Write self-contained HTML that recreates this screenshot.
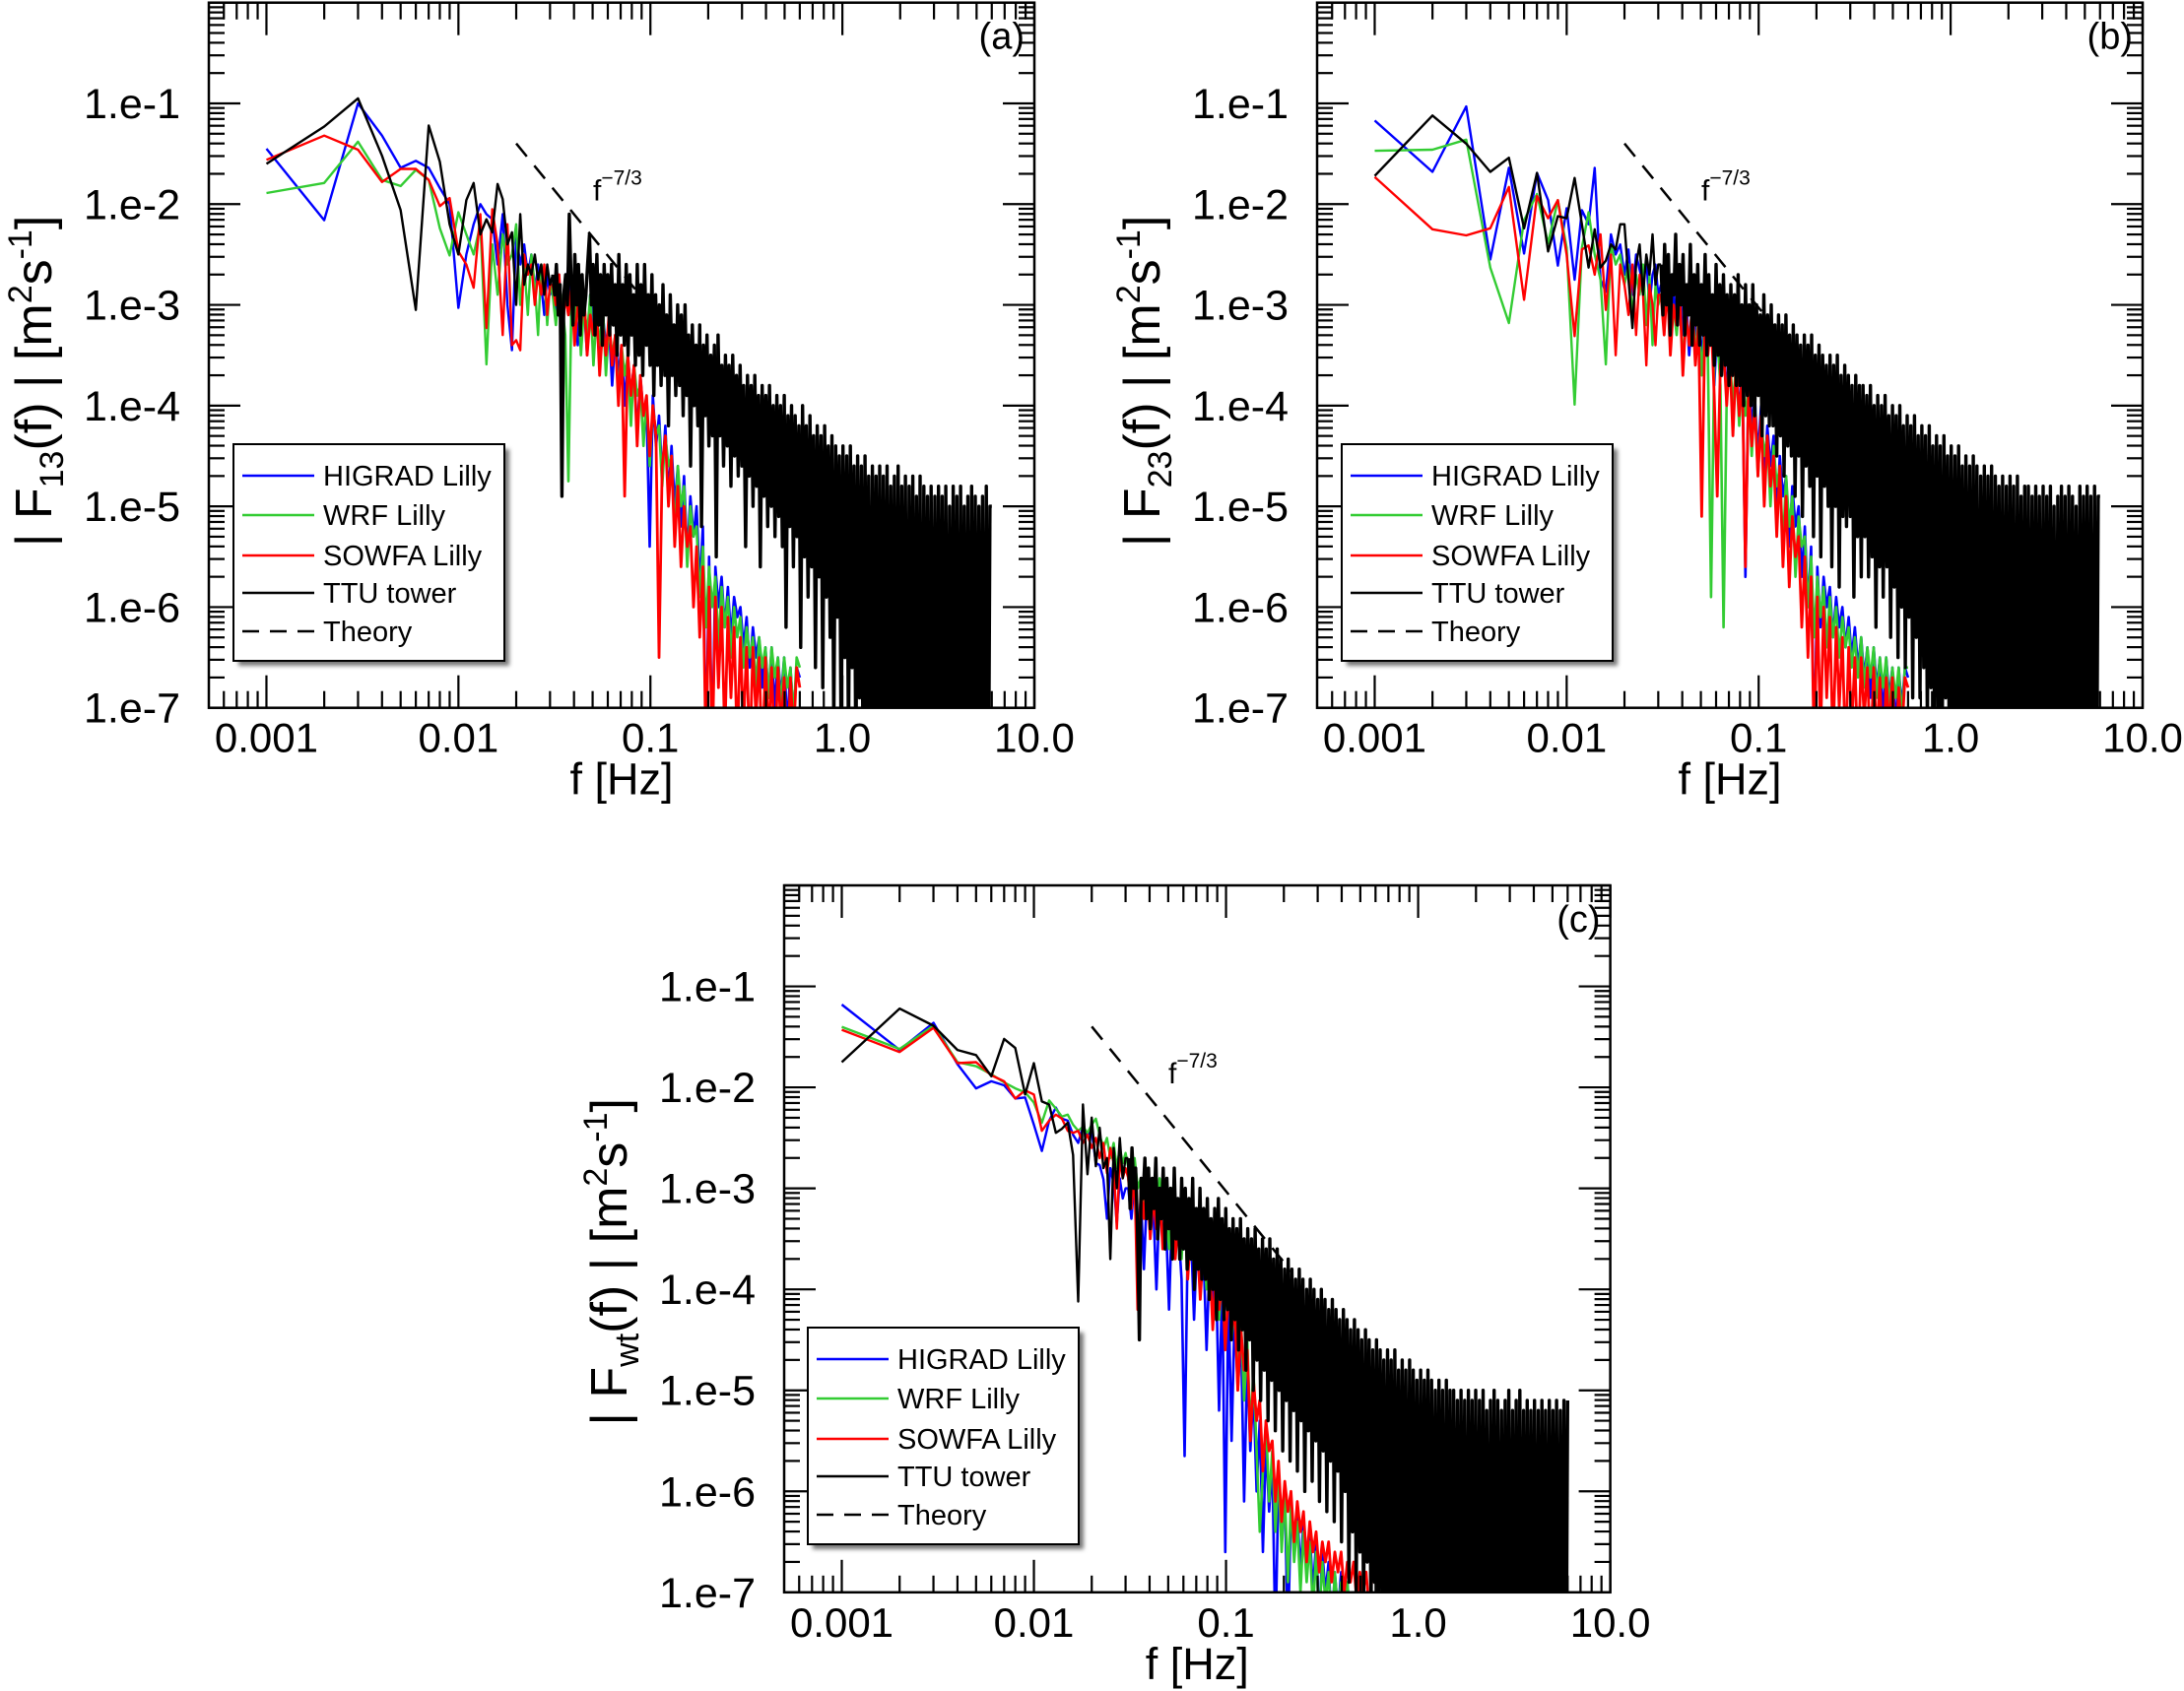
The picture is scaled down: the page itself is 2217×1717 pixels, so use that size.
<!DOCTYPE html>
<html><head><meta charset="utf-8"><title>Spectra</title>
<style>
html,body{margin:0;padding:0;background:#fff;overflow:hidden;width:2217px;height:1717px;}
svg{display:block;font-family:"Liberation Sans",Arial,sans-serif;}
</style></head>
<body>
<svg id="chart" width="2217" height="1717" viewBox="0 0 2217 1717" xmlns="http://www.w3.org/2000/svg">
<defs>
<clipPath id="clip-a"><rect x="212" y="2.7" width="838" height="716"/></clipPath>
<clipPath id="clip-b"><rect x="1337" y="2.7" width="838" height="716"/></clipPath>
<clipPath id="clip-c"><rect x="796" y="899" width="838.6" height="717.8"/></clipPath>
<filter id="shadow" x="-10%" y="-10%" width="130%" height="130%"><feGaussianBlur stdDeviation="2"/></filter>
</defs>
</svg>
<script>
// ---------- shared frequency categories ----------
const fLow = [0.001,0.002,0.003,0.004,0.005,0.006,0.007,0.008,0.009,0.010,0.011,0.012,0.013,0.014,0.015,0.016,0.017,0.018,0.019,0.020,0.021,0.022,0.023,0.024,0.025,0.026,0.027,0.028,0.029,0.030];
const fHighStartHz = 0.031;
const fTTUEndHz = 6.0;
const fModelEndHz = 0.6;

// ---------- panel (a) series (log10 of |F|) ----------
const ttuLowA = [-1.6,-1.23,-0.95,-1.52,-2.06,-3.05,-1.22,-1.58,-2.2,-2.5,-1.96,-1.79,-2.3,-2.15,-2.28,-1.8,-1.95,-2.4,-2.28,-3.0,-2.1,-2.8,-2.6,-2.7,-2.5,-2.75,-2.6,-2.9,-2.6,-2.8];
const ttuHighA = [-2.7,-2.9,-2.6,-3.1,-2.8,-4.9,-2.9,-2.7,-3.0,-2.1,
-2.8,-3.2,-2.5,-3.0,-2.6,-3.3,-2.7,-3.1,-2.9,-2.6,
-2.3,-3.0,-2.6,-3.3,-2.5,-3.2,-2.7,-3.4,-2.6,-3.1,
-2.7,-3.3,-2.6,-3.2,-2.8,-3.5,-2.5,-3.3,-2.8,-3.4,
-2.6,-3.5,-2.7,-3.3,-2.9,-3.6,-2.6,-3.5,-2.8,-3.7,
-2.6,-3.4,-2.9,-3.6,-2.7,-3.9,-2.9,-3.6,-3.0,-3.8,
-2.8,-3.7,-3.1,-4.2,-2.9,-3.7,-3.2,-3.9,-3.0,-3.8,
-3.1,-4.1,-3.0,-3.9,-3.3,-4.6,-3.2,-4.0,-3.4,-4.2,
-3.2,-5.2,-3.4,-4.1,-3.3,-4.4,-3.5,-4.3,-3.4,-5.5,
-3.3,-4.3,-3.6,-4.6,-3.5,-4.4,-3.6,-4.8,-3.5,-4.5,
-3.7,-4.7,-3.6,-4.6,-3.8,-5.4,-3.7,-4.7,-3.8,-5.0,
-3.7,-4.8,-3.9,-5.6,-3.8,-4.9,-3.9,-5.2,-3.8,-5.0,
-4.0,-5.3,-3.9,-5.1,-4.0,-5.4,-3.9,-6.2,-4.1,-5.2,
-4.0,-5.6,-4.1,-5.3,-4.2,-6.4,-4.0,-5.5,-4.2,-5.9,
-4.1,-5.6,-4.3,-6.6,-4.2,-5.7,-4.3,-6.8,-4.2,-5.9,
-4.4,-6.3,-4.3,-7.2,-4.4,-6.1,-4.5,-7.5,-4.4,-6.5,
-4.5,-7.4,-4.4,-6.6,-4.6,-7.6,-4.5,-6.9,-4.6,-7.8,
-4.5,-7.1,-4.7,-8.0,-4.6,-7.3,-4.7,-7.9,-4.6,-8.2,
-4.7,-7.5,-4.6,-8.3,-4.8,-7.7,-4.7,-8.1,-4.6,-8.4,
-4.8,-7.9,-4.7,-8.5,-4.8,-8.0,-4.7,-8.6,-4.9,-8.2,
-4.7,-8.7,-4.8,-8.1,-4.9,-8.6,-4.8,-8.3,-4.9,-8.8,
-4.8,-8.4,-4.9,-8.7,-4.8,-8.5,-5.0,-8.9,-4.8,-8.6,
-4.9,-8.8,-4.8,-8.5,-5.0,-8.9,-4.9,-8.7,-4.8,-8.6,
-4.9,-8.9,-5.0,-8.7,-4.9,-8.8,-4.8,-8.9,-5.0,-5.0];
const higradLowA = [-1.45,-2.16,-1.0,-1.32,-1.64,-1.57,-1.64,-1.84,-2.0,-3.03,-2.5,-2.2,-2.0,-2.1,-2.15,-2.6,-2.1,-3.0,-3.45,-2.3,-2.6,-2.4,-2.7,-2.5,-2.9,-2.6,-2.8,-3.1,-2.7,-2.9];
const higradHighA = [-2.8,-3.1,-2.7,-3.3,-2.9,-2.6,-3.2,-2.8,-3.4,-2.9,
-3.0,-3.5,-2.9,-3.3,-3.0,-3.6,-3.1,-3.4,-3.2,-3.8,
-3.3,-3.7,-3.4,-4.0,-3.5,-3.9,-3.6,-4.3,-3.7,-4.1,
-4.0,-5.4,-3.9,-4.4,-4.1,-4.7,-4.2,-4.9,-4.4,-5.0,
-4.6,-5.2,-4.7,-5.5,-4.9,-5.3,-5.0,-5.8,-5.2,-7.5,
-5.5,-7.5,-5.6,-6.0,-5.7,-6.2,-5.8,-6.3,-5.9,-6.1,
-6.0,-6.4,-6.1,-6.6,-6.2,-6.5,-6.3,-6.8,-6.4,-6.9,
-6.4,-7.0,-6.5,-6.9,-6.5,-7.2,-6.6,-7.1,-6.6,-6.7];
const wrfLowA = [-1.89,-1.79,-1.38,-1.76,-1.82,-1.66,-1.76,-2.24,-2.51,-2.08,-2.3,-2.5,-2.2,-3.59,-2.4,-2.9,-2.3,-2.6,-2.5,-2.2,-3.0,-2.6,-3.1,-2.5,-2.8,-3.3,-2.6,-2.7,-3.2,-2.8];
const wrfHighA = [-2.9,-3.2,-2.8,-3.0,-3.3,-4.75,-2.9,-3.2,-2.8,-3.5,
-3.0,-3.3,-2.9,-3.6,-3.1,-3.4,-3.0,-3.7,-3.2,-3.5,
-3.3,-3.9,-3.4,-3.7,-3.5,-4.2,-3.6,-3.9,-3.8,-4.4,
-3.9,-4.6,-4.0,-4.3,-4.2,-4.8,-4.3,-4.6,-4.5,-5.3,
-4.6,-5.0,-4.8,-5.6,-5.0,-5.3,-5.2,-5.9,-5.4,-6.2,
-5.6,-6.0,-5.7,-6.4,-5.8,-6.2,-5.9,-6.5,-6.0,-6.3,
-6.1,-6.6,-6.2,-6.5,-6.3,-6.8,-6.3,-6.6,-6.4,-6.9,
-6.4,-6.7,-6.5,-7.0,-6.5,-6.8,-6.6,-7.1,-6.5,-6.6];
const sowfaLowA = [-1.56,-1.32,-1.46,-1.78,-1.65,-1.65,-1.76,-2.02,-1.94,-2.47,-2.6,-2.83,-2.1,-3.23,-2.05,-2.4,-3.3,-2.2,-3.4,-3.35,-3.45,-2.5,-2.7,-2.6,-3.0,-2.7,-2.9,-2.6,-3.1,-2.8];
const sowfaHighA = [-2.8,-3.0,-2.7,-3.3,-2.9,-3.1,-2.8,-3.4,-3.0,-3.2,
-2.9,-3.5,-3.1,-3.3,-3.0,-3.7,-3.2,-3.5,-3.1,-3.6,
-3.3,-4.0,-3.4,-4.9,-3.5,-3.9,-3.6,-4.4,-3.7,-4.1,
-3.9,-4.5,-4.0,-4.3,-6.5,-4.6,-4.3,-5.0,-4.5,-5.4,
-4.8,-5.6,-5.0,-5.4,-5.2,-6.0,-5.4,-6.3,-5.6,-7.5,
-5.8,-7.5,-5.9,-6.8,-6.0,-7.3,-6.1,-6.9,-6.2,-7.4,
-6.3,-7.2,-6.4,-7.5,-6.4,-7.1,-6.5,-7.6,-6.5,-7.3,
-6.6,-7.5,-6.6,-7.2,-6.7,-7.6,-6.7,-7.3,-6.6,-6.8];

// ---------- panel (b) series ----------
const ttuLowB = [-1.72,-1.12,-1.4,-1.68,-1.54,-2.24,-1.69,-2.47,-2.12,-2.14,-1.74,-2.2,-2.63,-2.25,-2.63,-2.56,-2.4,-2.45,-2.2,-2.2,-2.75,-3.23,-2.6,-2.4,-2.9,-2.5,-2.7,-2.3,-2.8,-2.6];
const ttuHighB = [-2.6,-3.1,-2.4,-3.0,-2.5,-3.3,-2.7,-2.9,-2.3,-3.2,
-2.6,-3.0,-2.5,-3.3,-2.8,-3.1,-2.4,-3.4,-2.7,-3.2,
-2.6,-3.4,-2.8,-3.3,-2.5,-3.5,-2.7,-3.4,-2.9,-3.6,
-2.6,-3.5,-2.8,-3.7,-2.7,-3.6,-2.9,-3.8,-2.8,-3.7,
-2.9,-3.8,-2.7,-3.8,-3.0,-4.0,-2.8,-3.9,-3.0,-4.0,
-2.8,-4.1,-3.0,-3.9,-3.1,-4.3,-2.9,-4.1,-3.1,-4.2,
-3.0,-4.2,-3.2,-4.5,-3.1,-4.3,-3.2,-4.7,-3.1,-4.4,
-3.3,-4.5,-3.2,-4.9,-3.3,-4.5,-3.4,-5.1,-3.3,-4.6,
-3.4,-4.8,-3.3,-5.3,-3.5,-4.7,-3.4,-5.5,-3.5,-4.8,
-3.6,-5.0,-3.5,-5.6,-3.6,-5.0,-3.5,-5.8,-3.7,-5.1,
-3.6,-5.2,-3.7,-5.1,-3.8,-5.9,-3.7,-5.3,-3.8,-5.7,
-3.8,-5.3,-3.9,-5.7,-3.8,-5.5,-4.0,-6.2,-3.9,-5.6,
-4.0,-5.9,-3.9,-5.6,-4.1,-6.3,-4.0,-5.8,-4.1,-6.5,
-4.0,-6.0,-4.2,-6.6,-4.1,-6.1,-4.2,-6.9,-4.1,-6.3,
-4.3,-6.9,-4.2,-6.6,-4.3,-7.2,-4.2,-6.8,-4.4,-7.4,
-4.3,-7.0,-4.4,-7.6,-4.3,-6.9,-4.5,-7.8,-4.4,-7.2,
-4.5,-7.9,-4.4,-7.3,-4.6,-8.0,-4.5,-7.5,-4.6,-8.2,
-4.5,-7.6,-4.6,-8.3,-4.7,-7.8,-4.6,-8.4,-4.7,-7.9,
-4.6,-8.5,-4.7,-8.0,-4.8,-8.6,-4.7,-8.1,-4.8,-8.7,
-4.7,-8.2,-4.8,-8.8,-4.7,-8.3,-4.9,-8.6,-4.8,-8.9,
-4.8,-8.4,-4.9,-8.7,-4.8,-8.9,-4.9,-8.5,-4.8,-8.8,
-4.9,-8.6,-4.8,-8.9,-5.0,-8.7,-4.9,-8.8,-4.8,-8.6,
-4.9,-8.9,-4.8,-8.7,-4.9,-8.8,-5.0,-8.6,-4.8,-8.9,
-4.9,-8.7,-4.8,-8.8,-4.9,-8.9,-4.8,-8.7,-4.9,-4.9];
const higradLowB = [-1.17,-1.68,-1.03,-2.55,-1.64,-2.49,-1.69,-1.96,-2.61,-2.04,-2.75,-2.06,-2.2,-1.64,-2.75,-2.87,-2.3,-2.5,-2.4,-2.7,-2.45,-2.9,-2.5,-2.65,-2.8,-2.55,-3.0,-2.7,-2.6,-2.9];
const higradHighB = [-2.8,-3.0,-2.7,-3.2,-2.9,-3.1,-2.8,-3.3,-2.9,-3.5,
-3.0,-3.3,-2.9,-3.6,-3.1,-3.4,-3.0,-3.8,-3.2,-3.5,
-3.3,-3.9,-3.4,-3.7,-3.5,-4.1,-3.6,-5.7,-3.7,-4.2,
-3.9,-4.5,-4.0,-4.8,-4.2,-4.6,-4.3,-5.1,-4.5,-4.9,
-4.7,-5.4,-4.8,-5.2,-5.0,-5.7,-5.2,-6.0,-5.4,-7.5,
-5.6,-6.2,-5.7,-6.0,-5.8,-6.3,-5.9,-6.2,-6.0,-6.4,
-6.1,-6.5,-6.2,-6.6,-6.3,-6.7,-6.4,-6.9,-6.4,-6.8,
-6.5,-7.1,-6.5,-6.9,-6.6,-7.2,-6.6,-7.0,-6.6,-6.7];
const wrfLowB = [-1.47,-1.46,-1.36,-2.63,-3.18,-2.16,-1.9,-2.39,-1.96,-2.43,-3.99,-2.43,-2.08,-2.5,-2.75,-3.59,-2.4,-2.6,-2.5,-2.8,-2.6,-3.1,-2.7,-2.9,-2.6,-3.2,-2.7,-3.4,-2.8,-3.0];
const wrfHighB = [-2.9,-3.2,-2.8,-3.4,-3.0,-3.3,-2.9,-3.6,-3.1,-3.4,
-3.0,-3.5,-3.1,-3.7,-3.2,-3.5,-5.9,-3.6,-3.3,-3.8,
-6.2,-3.9,-3.5,-4.0,-3.6,-4.2,-3.7,-4.1,-3.8,-4.5,
-3.9,-4.7,-4.1,-4.5,-4.3,-5.0,-4.4,-4.8,-4.6,-5.4,
-4.7,-5.2,-4.9,-5.7,-5.1,-5.4,-5.3,-6.0,-5.5,-6.3,
-5.7,-6.1,-5.8,-6.4,-5.9,-6.3,-6.0,-6.5,-6.1,-6.4,
-6.2,-6.6,-6.3,-6.7,-6.3,-6.8,-6.4,-6.7,-6.4,-6.9,
-6.5,-6.8,-6.5,-7.0,-6.6,-6.9,-6.6,-7.1,-6.6,-6.6];
const sowfaLowB = [-1.73,-2.25,-2.31,-2.24,-1.83,-2.95,-1.92,-2.14,-1.96,-2.5,-3.31,-2.45,-2.41,-2.7,-2.3,-3.05,-2.5,-3.5,-2.6,-2.8,-3.1,-2.6,-3.3,-2.7,-2.9,-3.6,-2.8,-3.0,-3.4,-2.9];
const sowfaHighB = [-2.9,-3.3,-2.8,-3.5,-3.0,-3.2,-2.9,-3.7,-3.1,-3.4,
-3.0,-3.6,-3.2,-5.1,-3.3,-3.5,-3.1,-3.9,-4.9,-3.6,
-3.4,-4.0,-3.5,-4.3,-3.6,-4.1,-3.7,-5.6,-3.8,-4.4,
-4.0,-4.7,-4.1,-5.0,-4.3,-4.8,-4.5,-5.3,-4.6,-5.6,
-4.9,-5.8,-5.1,-5.5,-5.3,-6.2,-5.5,-6.5,-5.7,-7.5,
-5.9,-7.3,-6.0,-6.9,-6.1,-7.4,-6.2,-7.0,-6.3,-7.5,
-6.4,-7.2,-6.5,-7.6,-6.5,-7.1,-6.6,-7.5,-6.6,-7.3,
-6.7,-7.6,-6.7,-7.2,-6.7,-7.5,-6.8,-7.3,-6.7,-6.8];

// ---------- panel (c) series ----------
const ttuLowC = [-1.75,-1.22,-1.39,-1.63,-1.68,-1.89,-1.52,-1.61,-2.07,-1.76,-2.14,-2.17,-2.45,-2.41,-2.35,-2.67,-4.12,-2.17,-2.86,-2.3,-2.78,-2.4,-2.8,-2.7,-3.7,-2.6,-3.0,-2.5,-2.9,-2.7];
const ttuHighC = [-2.7,-3.2,-2.6,-3.0,-2.8,-3.4,-4.5,-2.9,-3.1,-2.7,
-3.3,-2.8,-3.4,-2.9,-3.2,-2.7,-3.5,-3.0,-3.3,-2.8,
-3.6,-2.9,-3.4,-3.0,-3.7,-2.8,-3.5,-3.1,-3.7,-2.9,
-3.6,-3.0,-3.8,-3.1,-3.7,-2.9,-4.0,-3.2,-3.8,-3.0,
-3.9,-3.2,-3.9,-3.1,-4.1,-3.3,-4.0,-3.2,-4.3,-3.1,
-4.1,-3.3,-4.3,-3.2,-4.2,-3.4,-4.5,-3.3,-4.3,-3.4,
-4.6,-3.3,-4.4,-3.5,-4.8,-3.4,-4.5,-3.5,-5.0,-3.4,
-4.7,-3.6,-5.1,-3.5,-4.8,-3.6,-5.3,-3.5,-4.9,-3.7,
-5.4,-3.6,-5.0,-3.7,-5.6,-3.8,-5.1,-3.7,-5.7,-3.8,
-5.2,-3.9,-5.8,-3.8,-5.3,-3.9,-6.0,-4.0,-5.4,-3.9,
-5.9,-4.0,-5.5,-4.1,-6.1,-4.0,-5.6,-4.1,-6.2,-4.2,
-5.7,-4.1,-6.3,-4.2,-5.8,-4.3,-6.5,-4.2,-6.0,-4.3,
-6.9,-4.4,-6.4,-4.3,-7.0,-4.4,-6.6,-4.5,-7.2,-4.4,
-6.7,-4.5,-7.3,-4.6,-6.9,-4.5,-7.5,-4.6,-7.0,-4.7,
-7.6,-4.6,-7.2,-4.7,-7.8,-4.6,-7.3,-4.8,-7.9,-4.7,
-7.4,-4.8,-8.0,-4.7,-7.6,-4.8,-8.2,-4.9,-7.7,-4.8,
-8.3,-4.9,-7.8,-4.8,-8.4,-4.9,-7.9,-5.0,-8.5,-4.9,
-8.0,-5.0,-8.6,-4.9,-8.1,-5.0,-8.7,-5.0,-8.2,-5.1,
-8.8,-5.0,-8.3,-5.1,-8.9,-5.0,-8.4,-5.1,-8.8,-5.0,
-8.5,-5.1,-8.9,-5.0,-8.6,-5.2,-8.8,-5.1,-8.7,-5.0,
-8.9,-5.1,-8.6,-5.2,-8.8,-5.1,-8.9,-5.0,-8.7,-5.2,
-8.8,-5.1,-8.9,-5.0,-8.6,-5.2,-8.8,-5.1,-8.9,-5.2,
-8.7,-5.1,-8.8,-5.2,-8.9,-5.1,-8.6,-5.2,-8.8,-5.1,
-8.9,-5.2,-8.7,-5.1,-8.8,-5.2,-8.9,-5.1,-8.7,-5.1];
const higradLowC = [-1.18,-1.63,-1.36,-1.77,-2.01,-1.94,-1.98,-2.11,-2.1,-2.37,-2.63,-2.33,-2.2,-2.31,-2.33,-2.47,-2.55,-2.39,-2.47,-2.43,-2.75,-2.77,-2.91,-3.3,-2.8,-2.95,-3.35,-2.9,-3.1,-3.0];
const higradHighC = [-3.0,-3.3,-2.9,-3.5,-3.1,-3.8,-3.0,-3.4,-3.2,-4.0,
-3.1,-3.5,-3.3,-4.2,-3.2,-3.6,-3.4,-3.9,-5.65,-3.5,
-3.4,-4.3,-3.5,-3.9,-3.6,-4.6,-3.7,-4.2,-3.8,-5.2,
-3.9,-6.6,-4.0,-5.5,-4.2,-5.0,-4.4,-6.1,-4.7,-5.6,
-5.0,-6.0,-5.3,-6.6,-5.5,-6.2,-5.7,-7.5,-5.9,-6.4,
-6.0,-7.5,-6.1,-6.5,-6.2,-6.8,-6.3,-6.6,-6.4,-7.0,
-6.5,-7.3,-6.6,-7.0,-6.7,-7.4,-6.8,-7.2,-6.8,-7.5,
-6.9,-7.3,-7.0,-7.6,-7.0,-7.4,-7.1,-7.6,-7.1,-7.3];
const wrfLowC = [-1.4,-1.62,-1.39,-1.75,-1.79,-1.87,-1.95,-2.01,-2.05,-2.15,-2.35,-2.13,-2.21,-2.29,-2.27,-2.37,-2.43,-2.39,-2.45,-2.37,-2.31,-2.47,-2.6,-2.5,-2.7,-2.55,-2.8,-2.6,-2.75,-2.65];
const wrfHighC = [-2.8,-3.1,-2.7,-3.0,-2.9,-3.3,-2.8,-3.1,-3.0,-3.4,
-2.9,-3.2,-3.1,-3.6,-3.0,-3.3,-3.2,-3.7,-3.1,-3.5,
-3.3,-3.8,-3.4,-3.6,-3.5,-4.0,-3.6,-3.8,-3.7,-4.3,
-3.8,-4.1,-3.9,-4.5,-4.1,-4.8,-4.3,-5.1,-4.5,-5.4,
-4.8,-5.6,-6.4,-5.8,-5.3,-6.1,-5.6,-6.4,-5.8,-6.6,
-6.0,-6.9,-6.1,-6.7,-6.3,-7.0,-6.4,-6.9,-6.5,-7.2,
-6.6,-7.3,-6.7,-7.1,-6.8,-7.4,-6.8,-7.2,-6.9,-7.5,
-6.9,-7.3,-7.0,-7.6,-7.0,-7.4,-7.1,-7.7,-7.0,-7.2];
const sowfaLowC = [-1.43,-1.65,-1.41,-1.76,-1.75,-1.88,-1.94,-2.11,-2.03,-2.07,-2.43,-2.33,-2.27,-2.31,-2.43,-2.45,-2.43,-2.55,-2.47,-2.6,-2.5,-2.7,-2.55,-2.85,-2.6,-2.75,-3.4,-2.7,-2.9,-2.8];
const sowfaHighC = [-2.9,-3.2,-2.8,-4.2,-3.0,-3.3,-2.9,-3.5,-3.1,-3.4,
-3.0,-3.6,-3.2,-3.4,-3.1,-3.7,-3.3,-3.5,-3.2,-3.9,
-3.4,-3.7,-3.5,-4.1,-3.6,-3.9,-3.7,-4.4,-3.8,-4.2,
-3.9,-4.6,-4.0,-4.4,-4.2,-5.0,-4.4,-4.8,-4.6,-5.5,
-4.9,-5.3,-5.1,-5.8,-5.3,-5.6,-5.5,-6.1,-5.7,-6.3,
-5.9,-6.2,-6.0,-6.5,-6.1,-6.4,-6.2,-6.7,-6.3,-6.6,
-6.4,-6.8,-6.5,-6.7,-6.5,-6.9,-6.6,-6.8,-6.6,-7.0,
-6.7,-6.9,-6.7,-7.1,-6.8,-7.0,-6.8,-7.2,-6.8,-6.9];

// ---------- theory line f^-7/3 ----------
const theoryStartHz = [0.02, 0.02, 0.02];
const theoryAmp = [0.04, 0.04, 0.04];
const theoryEndHz = [0.108, 0.12, 0.22];

// ---------- tick labels ----------
const xTickValues = [0.001, 0.01, 0.1, 1, 10];
const xTickLabels = ["0.001", "0.01", "0.1", "1.0", "10.0"];
const yTickExps = [-1, -2, -3, -4, -5, -6, -7];
const yTickLabels = ["1.e-1", "1.e-2", "1.e-3", "1.e-4", "1.e-5", "1.e-6", "1.e-7"];
const legendLabels = ["HIGRAD Lilly", "WRF Lilly", "SOWFA Lilly", "TTU tower", "Theory"];
const panelTags = ["(a)", "(b)", "(c)"];
const ySubs = ["13", "23", "wt"];

// ---------- layout ----------
const NS = "http://www.w3.org/2000/svg";
const svg = document.getElementById("chart");
const panels = [
  {id:"a", x0:212, x1:1050, y0:2.7, y1:718.7, legX:237, legY:451},
  {id:"b", x0:1337, x1:2175, y0:2.7, y1:718.7, legX:1362, legY:451},
  {id:"c", x0:796, x1:1634.6, y0:899, y1:1616.8, legX:820, legY:1348}
];
const LX0 = -3.3, LX1 = 1.0, LY0 = -7, LY1 = 0;
function xPos(p, f){ return p.x0 + (Math.log10(f) - LX0) / (LX1 - LX0) * (p.x1 - p.x0); }
function yPos(p, lv){ return p.y1 - (lv - LY0) / (LY1 - LY0) * (p.y1 - p.y0); }
function mk(tag, attrs, parent){
  const e = document.createElementNS(NS, tag);
  for (const k in attrs) e.setAttribute(k, attrs[k]);
  (parent || svg).appendChild(e);
  return e;
}
function highGrid(n, endHz){
  const out = [];
  for (let i = 0; i < n; i++) out.push(fHighStartHz * Math.pow(endHz / fHighStartHz, i / (n - 1)));
  return out;
}
// returns two path strings: low-frequency part and high-frequency part (sharing a joint point)
function seriesPaths(p, lowVals, highVals, endHz){
  const fr = fLow.slice(0, lowVals.length).concat(highGrid(highVals.length, endHz));
  const vals = lowVals.concat(highVals);
  const pts = vals.map((v, i) => xPos(p, fr[i]).toFixed(1) + "," + yPos(p, v).toFixed(1));
  const split = lowVals.length;
  const lowD = "M" + pts.slice(0, split + 1).join("L");
  const highD = "M" + pts.slice(split).join("L");
  return [lowD, highD];
}

const seriesByPanel = [
  [higradLowA, higradHighA, wrfLowA, wrfHighA, sowfaLowA, sowfaHighA, ttuLowA, ttuHighA],
  [higradLowB, higradHighB, wrfLowB, wrfHighB, sowfaLowB, sowfaHighB, ttuLowB, ttuHighB],
  [higradLowC, higradHighC, wrfLowC, wrfHighC, sowfaLowC, sowfaHighC, ttuLowC, ttuHighC]
];
const colors = ["#0000ff", "#33cc33", "#ff0000", "#000000"];
const lowWidths = [2.4, 2.4, 2.4, 2.4];
const highWidths = [2.6, 2.6, 2.8, 3.4];
const seriesNames = ["higrad-lilly-line", "wrf-lilly-line", "sowfa-lilly-line", "ttu-tower-line"];

panels.forEach((p, pi) => {
  const g = mk("g", {});
  
  

  const dg = mk("g", {"clip-path": "url(#clip-" + p.id + ")"}, g);
  
  
  const S = seriesByPanel[pi];
  for (let s = 0; s < 4; s++){
    const endHz = s === 3 ? fTTUEndHz : fModelEndHz;
    const ds = seriesPaths(p, S[2*s], S[2*s+1], endHz);
    const sg = mk("g", {fill: "none", stroke: colors[s], "stroke-linejoin": "round"}, dg);
    
    
    const lp = mk("path", {d: ds[0], "stroke-width": lowWidths[s]}, sg);
    
    
    const hp = mk("path", {d: ds[1], "stroke-width": highWidths[s]}, sg);
    
    
  }
  const fa = theoryStartHz[pi], fb = theoryEndHz[pi], A = theoryAmp[pi];
  const ya = Math.log10(A), yb = Math.log10(A * Math.pow(fb / fa, -7/3));
  const th = mk("line", {x1: xPos(p, fa), y1: yPos(p, ya), x2: xPos(p, fb), y2: yPos(p, yb), stroke: "#000", "stroke-width": 2.5, "stroke-dasharray": "17,12"}, dg);
  
  

  const fr = mk("rect", {x: p.x0, y: p.y0, width: p.x1 - p.x0, height: p.y1 - p.y0, fill: "none", stroke: "#000", "stroke-width": 2.5}, g);
  
  

  const tg = mk("g", {stroke: "#000", "stroke-width": 2.2}, g);
  
  
  for (let e = -4; e <= 1; e++){
    for (let m = 1; m <= 9; m++){
      const f = m * Math.pow(10, e);
      const lf = Math.log10(f);
      if (lf < LX0 - 1e-9 || lf > LX1 + 1e-9) continue;
      const x = xPos(p, f), len = m === 1 ? 33 : 17;
      mk("line", {x1: x, y1: p.y1, x2: x, y2: p.y1 - len}, tg);
      mk("line", {x1: x, y1: p.y0, x2: x, y2: p.y0 + len}, tg);
    }
  }
  const yg = mk("g", {stroke: "#000", "stroke-width": 2.2}, g);
  
  
  for (let e = -7; e <= 0; e++){
    for (let m = 1; m <= 9; m++){
      const lv = e + Math.log10(m);
      if (lv > LY1 + 1e-9) continue;
      const y = yPos(p, lv), len = m === 1 ? 32 : 16;
      mk("line", {x1: p.x0, y1: y, x2: p.x0 + len, y2: y}, yg);
      mk("line", {x1: p.x1, y1: y, x2: p.x1 - len, y2: y}, yg);
    }
  }
  xTickValues.forEach((v, i) => {
    const t = mk("text", {x: xPos(p, v), y: p.y1 + 45, "font-size": 42, "text-anchor": "middle", fill: "#000"}, g);
    t.textContent = xTickLabels[i];
    
    
  });
  yTickExps.forEach((v, i) => {
    const t = mk("text", {x: p.x0 - 29, y: yPos(p, v) + 15, "font-size": 43, "text-anchor": "end", fill: "#000"}, g);
    t.textContent = yTickLabels[i];
    
    
  });
  const xt = mk("text", {x: (p.x0 + p.x1) / 2, y: p.y1 + 88, "font-size": 45, "text-anchor": "middle", fill: "#000"}, g);
  xt.textContent = "f [Hz]";
  
  
  const yt = mk("text", {transform: "translate(" + (p.x0 - 160) + "," + (p.y0 + 216) + ") rotate(-90)", "font-size": 52, "text-anchor": "end", fill: "#000", "xml:space": "preserve"}, g);
  
  
  yt.innerHTML = '| F<tspan font-size="34" dy="12">' + ySubs[pi] + '</tspan><tspan dy="-12">(f) |  [m</tspan><tspan font-size="34" dy="-20">2</tspan><tspan dy="20">s</tspan><tspan font-size="34" dy="-20">-1</tspan><tspan dy="20">]</tspan>';
  const pt = mk("text", {x: p.x1 - 10, y: p.y0 + 47, "font-size": 38, "text-anchor": "end", fill: "#000"}, g);
  pt.textContent = panelTags[pi];
  
  
  const an = mk("text", {x: p.x0 + 390, y: p.y0 + 201, "font-size": 30, fill: "#000"}, g);
  an.innerHTML = 'f<tspan font-size="21" dy="-16">\u22127/3</tspan>';
  
  

  const lg = mk("g", {}, g);
  
  
  mk("rect", {x: p.legX + 5, y: p.legY + 5, width: 275, height: 220, fill: "#777", filter: "url(#shadow)"}, lg);
  mk("rect", {x: p.legX, y: p.legY, width: 275, height: 220, fill: "#fff", stroke: "#000", "stroke-width": 2}, lg);
  const rowOff = [32, 72, 113, 151, 190];
  legendLabels.forEach((lab, i) => {
    const ry = p.legY + rowOff[i];
    const ln = mk("line", {x1: p.legX + 9, y1: ry, x2: p.legX + 82, y2: ry, stroke: i < 4 ? colors[i] : "#000", "stroke-width": 2.4}, lg);
    if (i === 4) ln.setAttribute("stroke-dasharray", "17,11");
    
    
    const t = mk("text", {x: p.legX + 91, y: ry + 10, "font-size": 29, fill: "#000"}, lg);
    t.textContent = lab;
    
    
  });
});
</script>
</body></html>
